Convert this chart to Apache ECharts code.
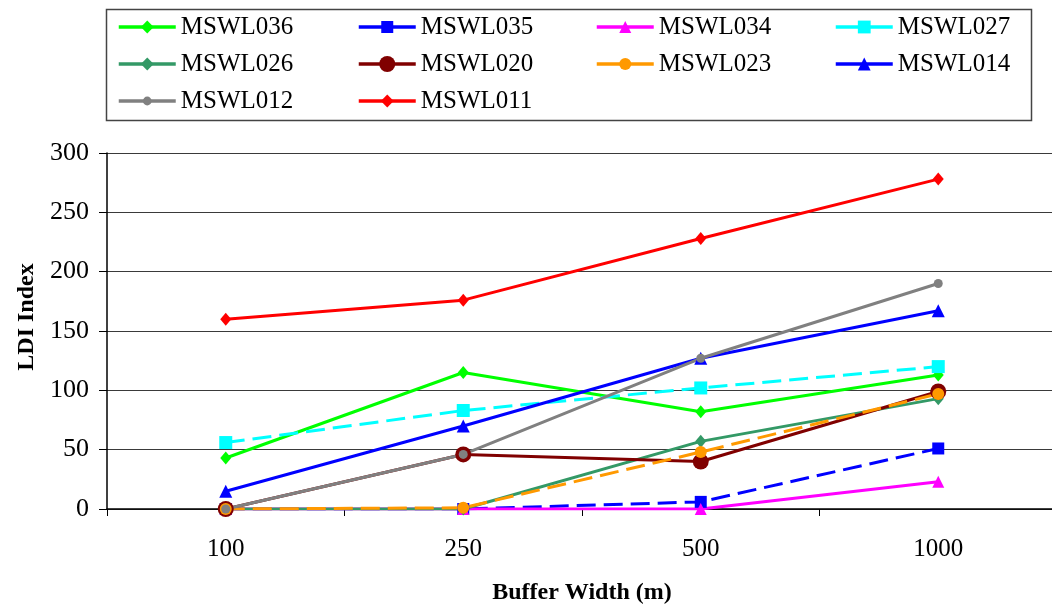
<!DOCTYPE html>
<html>
<head>
<meta charset="utf-8">
<script src="https://cdn.jsdelivr.net/npm/echarts@6/dist/echarts.min.js"></script>
<style>html,body{margin:0;padding:0;background:#fff}#c{width:1052px;height:606px}</style>
</head>
<body>
<div id="c"></div>
<script>
const categories = ['100', '250', '500', '1000'];
const seriesNames = ['MSWL036','MSWL035','MSWL034','MSWL027','MSWL026','MSWL020','MSWL023','MSWL014','MSWL012','MSWL011'];
const MSWL036 = [43, 115, 82, 113];
const MSWL035 = [0, 0, 6, 51];
const MSWL034 = [0, 0, 0, 23];
const MSWL027 = [56, 83, 102, 120];
const MSWL026 = [0, 0, 57, 93];
const MSWL020 = [0, 46, 40, 99];
const MSWL023 = [0, 1, 48, 97];
const MSWL014 = [15, 70, 127, 167];
const MSWL012 = [0, 46, 127, 190];
const MSWL011 = [160, 176, 228, 278];
const yTicks = [0, 50, 100, 150, 200, 250, 300];

const values = {MSWL036, MSWL035, MSWL034, MSWL027, MSWL026, MSWL020, MSWL023, MSWL014, MSWL012, MSWL011};
const styles = {
  MSWL036: {color:'#00FF00', symbol:'diamond',  size:[11,13], dash:false},
  MSWL035: {color:'#0000FF', symbol:'rect',     size:12, dash:true},
  MSWL034: {color:'#FF00FF', symbol:'triangle', size:12, dash:false},
  MSWL027: {color:'#00FFFF', symbol:'rect',     size:13, dash:true},
  MSWL026: {color:'#339966', symbol:'diamond',  size:[11,13], dash:false},
  MSWL020: {color:'#800000', symbol:'circle',   size:16, dash:false},
  MSWL023: {color:'#FF9900', symbol:'circle',   size:12, dash:true},
  MSWL014: {color:'#0000FF', symbol:'triangle', size:13, dash:false},
  MSWL012: {color:'#808080', symbol:'circle',   size:9,  dash:false},
  MSWL011: {color:'#FF0000', symbol:'diamond',  size:[11,13], dash:false}
};
const FONT = "'Liberation Serif', 'Times New Roman', serif";

const series = seriesNames.map(n => ({
  name: n,
  type: 'line',
  data: values[n],
  symbol: styles[n].symbol,
  symbolSize: styles[n].size,
  showAllSymbol: true,
  color: styles[n].color,
  itemStyle: {color: styles[n].color, borderWidth: 0},
  lineStyle: {color: styles[n].color, width: 3, type: styles[n].dash ? [19, 8] : 'solid'},
  emphasis: {disabled: true}
}));

const colX = [117, 357, 595, 834];
const rowY = [27, 64, 101];
const legends = seriesNames.map((n, i) => {
  const sz = Array.isArray(styles[n].size) ? styles[n].size[1] : styles[n].size;
  return {
    data: [n],
    left: colX[i % 4],
    top: rowY[Math.floor(i / 4)] - 13,
    padding: 0,
    itemWidth: 57,
    itemHeight: Math.round(sz / 0.8),
    itemGap: 0,
    selectedMode: false,
    lineStyle: {type: 'solid', width: 3.5},
    textStyle: {fontFamily: FONT, fontSize: 25, color: '#000', lineHeight: 26, padding: [0,0,0,0]}
  };
});

const chart = echarts.init(document.getElementById('c'), null, {renderer: 'canvas'});
chart.setOption({
  animation: false,
  backgroundColor: '#fff',
  grid: {left: 107, top: 153, width: 950, height: 356, containLabel: false, outerBoundsMode: 'none'},
  legend: legends,
  graphic: [{
    type: 'rect', left: 104, top: 7, z: -1,
    shape: {width: 925, height: 111},
    style: {fill: 'none', stroke: '#444', lineWidth: 1.5}
  }],
  xAxis: {
    type: 'category',
    data: categories,
    boundaryGap: true,
    name: 'Buffer Width (m)',
    nameLocation: 'middle',
    nameGap: 72,
    nameTextStyle: {fontFamily: FONT, fontSize: 24, fontWeight: 'bold', color: '#000'},
    axisLine: {lineStyle: {color: '#000', width: 1.5}},
    axisTick: {show: true, inside: false, length: 7, lineStyle: {color: '#000'}},
    axisLabel: {fontFamily: FONT, fontSize: 25, color: '#000', margin: 28},
    splitLine: {show: false}
  },
  yAxis: {
    type: 'value',
    min: yTicks[0],
    max: yTicks[yTicks.length - 1],
    interval: 50,
    name: 'LDI Index',
    nameLocation: 'middle',
    nameRotate: 90,
    nameGap: 60,
    nameTextStyle: {fontFamily: FONT, fontSize: 24, fontWeight: 'bold', color: '#000', padding: [0, 0, 0, 28]},
    axisLine: {show: true, lineStyle: {color: '#000', width: 1.5}},
    axisTick: {show: true, inside: false, length: 8, lineStyle: {color: '#000'}},
    axisLabel: {fontFamily: FONT, fontSize: 26, color: '#000', margin: 18},
    splitLine: {show: true, lineStyle: {color: '#3a3a3a', width: 1.2}}
  },
  series: series
});
</script>
</body>
</html>
